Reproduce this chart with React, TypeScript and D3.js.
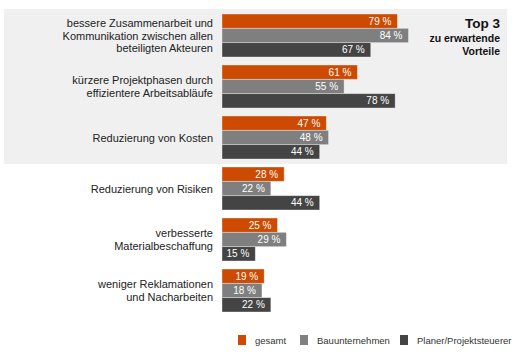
import React from 'react';
import * as d3 from 'd3';

const categories = [
  'bessere Zusammenarbeit und\nKommunikation zwischen allen\nbeteiligten Akteuren',
  'kürzere Projektphasen durch\neffizientere Arbeitsabläufe',
  'Reduzierung von Kosten',
  'Reduzierung von Risiken',
  'verbesserte\nMaterialbeschaffung',
  'weniger Reklamationen\nund Nacharbeiten',
];
const seriesNames = ['gesamt', 'Bauunternehmen', 'Planer/Projektsteuerer'];
const gesamt = [79, 61, 47, 28, 25, 19];
const bauunternehmen = [84, 55, 48, 22, 29, 18];
const planer = [67, 78, 44, 44, 15, 22];
const seriesValues = [gesamt, bauunternehmen, planer];
const colors = ['#cc4a02', '#7f7f7f', '#444444'];
const titleLines = ['Top 3', 'zu erwartende', 'Vorteile'];

const W = 520;
const H = 359;
const FONT = 'Liberation Sans, Arial, sans-serif';

export default function App() {
  const x = d3.scaleLinear().domain([0, 100]).range([222, 444]);
  const y = d3.scaleBand<string>()
    .domain(categories)
    .range([14, 312])
    .paddingInner(8 / 51)
    .paddingOuter(0);
  const inner = d3.scaleBand<number>()
    .domain(d3.range(seriesNames.length))
    .range([0, y.bandwidth()])
    .padding(0);

  const topY0 = (y(categories[0]) ?? 0) - 5;
  const topY1 = (y(categories[2]) ?? 0) + y.bandwidth() + 5;

  const legendX = [238, 300, 400];

  return (
    <svg width={W} height={H} style={{ position: 'absolute', left: 0, top: 0, background: '#fff' }}
      fontFamily={FONT}>
      {/* highlighted top 3 */}
      <rect x={4} y={topY0} width={503} height={topY1 - topY0} fill="#f0f0f0" />

      {categories.map((cat, ci) => {
        const y0 = y(cat) ?? 0;
        const lines = cat.split('\n');
        const cy = y0 + y.bandwidth() / 2;
        const lh = 12.8;
        return (
          <g key={cat}>
            <text textAnchor="end" fontSize={11} fill="#222">
              {lines.map((l, li) => (
                <tspan key={li} x={213} y={cy + (li - (lines.length - 1) / 2) * lh + 4}>{l}</tspan>
              ))}
            </text>
            {seriesValues.map((vals, si) => {
              const by = y0 + (inner(si) ?? 0);
              const bh = inner.bandwidth();
              const v = vals[ci];
              return (
                <g key={si}>
                  <rect x={x(0)} y={by} width={x(v) - x(0)} height={bh}
                    fill={colors[si]} stroke="#ffffff" strokeOpacity={0.45} strokeWidth={0.8} />
                  <text x={x(v) - 6} y={by + bh / 2 + 3.6} textAnchor="end" fontSize={10} fill="#fff">
                    {v} %
                  </text>
                </g>
              );
            })}
          </g>
        );
      })}

      <text textAnchor="end" fill="#111" fontWeight="bold">
        <tspan x={500} y={28} fontSize={13.5}>{titleLines[0]}</tspan>
        <tspan x={500} y={42} fontSize={10.5}>{titleLines[1]}</tspan>
        <tspan x={500} y={55} fontSize={10.5}>{titleLines[2]}</tspan>
      </text>

      {seriesNames.map((name, i) => (
        <g key={name}>
          <rect x={legendX[i]} y={335} width={8} height={10} fill={colors[i]} />
          <text x={legendX[i] + 17} y={343.5} fontSize={9.5} fill="#333">{name}</text>
        </g>
      ))}
    </svg>
  );
}
